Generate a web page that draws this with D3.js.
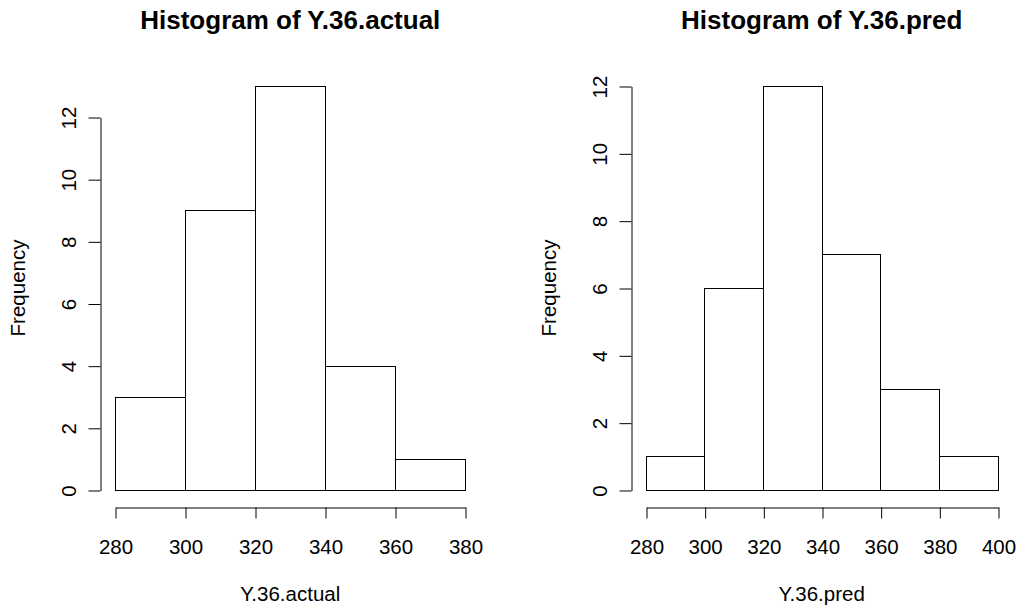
<!DOCTYPE html>
<html>
<head>
<meta charset="utf-8">
<script src="https://cdn.jsdelivr.net/npm/d3@7"></script>
<style>
  body { margin: 0; background: #fff; }
  svg text { font-family: "Liberation Sans", Arial, sans-serif; fill: #000; }
</style>
</head>
<body>
<div id="chart"></div>
<script>
// histogram data
var actual_breaks = [280, 300, 320, 340, 360, 380]
var actual_counts = [3, 9, 13, 4, 1]
var actual_xticks = [280, 300, 320, 340, 360, 380]
var actual_yticks = [0, 2, 4, 6, 8, 10, 12]

var pred_breaks = [280, 300, 320, 340, 360, 380, 400]
var pred_counts = [1, 6, 12, 7, 3, 1]
var pred_xticks = [280, 300, 320, 340, 360, 380, 400]
var pred_yticks = [0, 2, 4, 6, 8, 10, 12]

var width = 1018
var height = 606

var svg = d3
  .select('#chart')
  .append('svg')
  .attr('width', width)
  .attr('height', height)

// one panel per histogram
var panels = [
  {
    title: 'Histogram of Y.36.actual',
    xlab: 'Y.36.actual',
    breaks: actual_breaks,
    counts: actual_counts,
    xticks: actual_xticks,
    yticks: actual_yticks,
    xrange: [115.3, 465.3],
    ymax: 13,
    yaxisX: 100,
    offset: 0
  },
  {
    title: 'Histogram of Y.36.pred',
    xlab: 'Y.36.pred',
    breaks: pred_breaks,
    counts: pred_counts,
    xticks: pred_xticks,
    yticks: pred_yticks,
    xrange: [645.7, 997.7],
    ymax: 12,
    yaxisX: 631,
    offset: 531
  }
]

var baseY = 490
var pxPerUnit = [31.1, 33.67]

panels.forEach((p, k) => {
  var g = svg.append('g')

  var x = d3
    .scaleLinear()
    .domain([p.breaks[0], p.breaks[p.breaks.length - 1]])
    .range(p.xrange)

  var y = d3
    .scaleLinear()
    .domain([0, p.ymax])
    .range([baseY, baseY - p.ymax * pxPerUnit[k]])

  // bars
  g.selectAll('.bar')
    .data(p.counts)
    .enter()
    .append('rect')
    .attr('class', 'bar')
    .attr('x', (d, i) => Math.round(x(p.breaks[i])) + 0.5)
    .attr('y', d => Math.round(y(d)) + 0.5)
    .attr('width', (d, i) => Math.round(x(p.breaks[i + 1])) - Math.round(x(p.breaks[i])))
    .attr('height', d => Math.round(y(0)) - Math.round(y(d)))
    .attr('fill', 'white')
    .attr('stroke', 'black')
    .attr('stroke-width', 1)

  // x axis, R style: below the bars
  var xAxisY = 507
  var xa = g
    .append('g')
    .attr('transform', 'translate(0.5,' + (xAxisY + 0.5) + ')')
    .call(
      d3.axisBottom(x.copy().range(x.range().map(Math.round)))
        .tickValues(p.xticks)
        .tickSize(11)
        .tickSizeOuter(0)
        .tickFormat(d3.format('d'))
    )
  xa.selectAll('path, line').attr('stroke', 'black')
  xa.selectAll('text')
    .attr('y', 0)
    .attr('dy', null)
    .attr('transform', 'translate(0,' + (553 - xAxisY) + ')')
    .style('font-size', '20.5px')

  // y axis only over the tick range
  var yAxisScale = y.copy().domain([0, 12]).range([Math.round(y(0)), Math.round(y(12))])
  var ya = g
    .append('g')
    .attr('transform', 'translate(' + (p.yaxisX + 0.5) + ',0.5)')
    .call(
      d3.axisLeft(yAxisScale)
        .tickValues(p.yticks)
        .tickSize(12)
        .tickSizeOuter(0)
    )
  ya.selectAll('path, line').attr('stroke', 'black')
  ya.selectAll('text')
    .attr('x', 0)
    .attr('dy', null)
    .attr('text-anchor', 'middle')
    .attr('transform', 'translate(-25,0) rotate(-90)')
    .style('font-size', '20.5px')

  // titles and labels
  g.append('text')
    .attr('x', (p.xrange[0] + p.xrange[1]) / 2)
    .attr('y', 29)
    .attr('text-anchor', 'middle')
    .style('font-size', '26px')
    .style('font-weight', 'bold')
    .text(p.title)

  g.append('text')
    .attr('x', (p.xrange[0] + p.xrange[1]) / 2)
    .attr('y', 601)
    .attr('text-anchor', 'middle')
    .style('font-size', '20.5px')
    .text(p.xlab)

  g.append('text')
    .attr('transform', 'translate(' + (25 + p.offset) + ',' + 288 + ') rotate(-90)')
    .attr('text-anchor', 'middle')
    .style('font-size', '20.5px')
    .text('Frequency')
})
</script>
</body>
</html>
